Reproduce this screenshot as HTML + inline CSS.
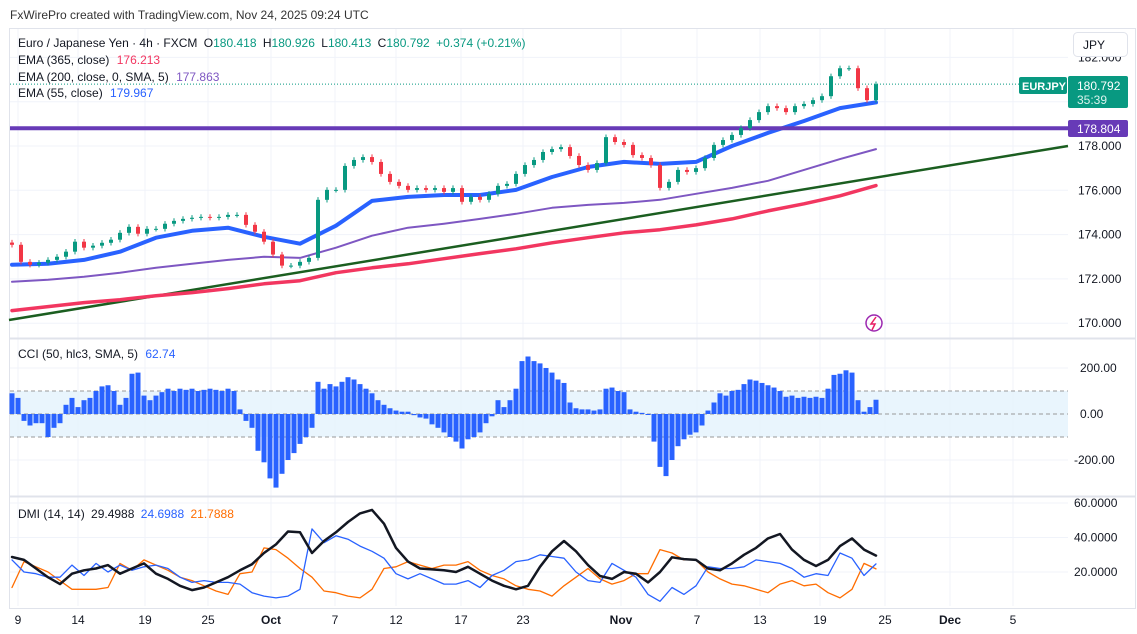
<!DOCTYPE html>
<html><head><meta charset="utf-8"><style>
html,body{margin:0;padding:0;background:#fff;}
svg{display:block;font-family:"Liberation Sans",sans-serif;}
</style></head><body>
<svg id="c" width="1137" height="634" viewBox="0 0 1137 634" xmlns="http://www.w3.org/2000/svg">
<rect x="0" y="0" width="1137" height="634" fill="#fff"/>
<text x="10" y="19" font-size="12" fill="#333">FxWirePro created with TradingView.com, Nov 24, 2025 09:24 UTC</text>
<rect x="9.5" y="28.5" width="1126" height="580" fill="none" stroke="#e0e3eb"/>
<g id="grid"></g>
<rect x="10" y="391" width="1058" height="46" fill="#e3f2fd" opacity="0.8"/>
<line x1="10" y1="391" x2="1068" y2="391" stroke="#999" stroke-dasharray="4,3"/>
<line x1="10" y1="414" x2="1068" y2="414" stroke="#999" stroke-dasharray="4,3"/>
<line x1="10" y1="437" x2="1068" y2="437" stroke="#999" stroke-dasharray="4,3"/>
<line x1="10" y1="338.5" x2="1135" y2="338.5" stroke="#e0e3eb" stroke-width="2"/>
<line x1="10" y1="496.5" x2="1135" y2="496.5" stroke="#e0e3eb" stroke-width="2"/>
<g id="marks"></g>
<g id="labels" font-size="12" fill="#131722"></g>
<text x="18" y="47" font-size="12" fill="#131722">Euro / Japanese Yen · 4h · FXCM <tspan dx="3">O</tspan><tspan fill="#089981">180.418</tspan> <tspan dx="3">H</tspan><tspan fill="#089981">180.926</tspan> <tspan dx="3">L</tspan><tspan fill="#089981">180.413</tspan> <tspan dx="3">C</tspan><tspan fill="#089981">180.792</tspan> <tspan dx="3" fill="#089981">+0.374 (+0.21%)</tspan></text>
<text x="18" y="64" font-size="12" fill="#131722">EMA (365, close) <tspan dx="4" fill="#f23660">176.213</tspan></text>
<text x="18" y="81" font-size="12" fill="#131722">EMA (200, close, 0, SMA, 5) <tspan dx="4" fill="#7e57c2">177.863</tspan></text>
<text x="18" y="97" font-size="12" fill="#131722">EMA (55, close) <tspan dx="4" fill="#2962ff">179.967</tspan></text>
<text x="18" y="358" font-size="12" fill="#131722">CCI (50, hlc3, SMA, 5) <tspan dx="4" fill="#2962ff">62.74</tspan></text>
<text x="18" y="518" font-size="12" fill="#131722">DMI (14, 14) <tspan dx="3">29.4988</tspan> <tspan dx="3" fill="#2962ff">24.6988</tspan> <tspan dx="3" fill="#ff6d00">21.7888</tspan></text>
<g id="overlay"></g>
<rect x="1073.5" y="32.5" width="54" height="24" rx="4" fill="#fff" stroke="#e0e3eb"/>
<text x="1083" y="49" font-size="12" fill="#131722">JPY</text>
<g><circle cx="874" cy="323" r="8" fill="none" stroke="#9c27b0" stroke-width="1.5"/><path d="M876 317 L871 324 L875 324 L872 330" fill="none" stroke="#e91e63" stroke-width="1.5"/></g>
</svg>
<script>
// ---------- data ----------
const closes=[173.54,172.77,172.64,172.73,172.86,173.0,173.23,173.68,173.41,173.5,173.63,173.77,174.08,174.35,174.04,174.26,174.26,174.49,174.62,174.71,174.76,174.8,174.76,174.8,174.89,174.89,174.44,174.13,173.68,173.1,172.6,172.6,172.77,172.95,175.57,176.02,176.02,177.1,177.37,177.5,177.28,176.74,176.38,176.2,176.02,176.1,176.02,176.1,175.93,176.1,175.48,175.7,175.57,175.84,176.2,176.29,176.74,177.14,177.37,177.73,177.86,177.95,177.55,177.14,176.92,177.23,178.4,178.18,178.05,177.59,177.46,177.14,176.11,176.38,176.92,176.83,177.0,177.46,178.05,178.27,178.5,178.81,179.17,179.53,179.8,179.71,179.53,179.8,179.9,180.07,180.25,181.15,181.51,181.51,180.61,180.07,180.79];
const ema55=[172.64,172.68,172.86,173.23,173.86,174.17,174.31,173.9,173.59,174.4,175.52,175.7,175.79,175.79,176.02,176.6,177.05,177.28,177.19,177.28,178.0,178.59,179.13,179.71,179.97];
const ema200=[171.87,171.96,172.1,172.28,172.5,172.68,172.86,173.0,172.95,173.41,173.95,174.31,174.49,174.71,174.94,175.21,175.34,175.43,175.57,175.84,176.11,176.43,176.92,177.41,177.86];
const ema365=[170.57,170.75,170.93,171.06,171.24,171.38,171.56,171.78,171.92,172.28,172.5,172.68,172.91,173.14,173.36,173.63,173.86,174.08,174.22,174.44,174.71,175.07,175.39,175.75,176.21];
const cci=[90,70,-30,-50,-40,-40,-100,-60,-40,40,70,30,60,70,100,120,125,100,40,70,175,180,80,60,80,95,110,100,110,105,110,100,105,110,105,100,110,100,20,-30,-60,-160,-210,-280,-320,-260,-200,-170,-130,-100,-60,140,110,130,120,140,160,150,130,110,90,60,40,25,15,10,10,-5,-15,-20,-45,-60,-80,-100,-120,-150,-110,-100,-80,-40,-10,60,30,60,110,230,250,230,220,200,180,150,135,50,25,20,20,15,20,110,115,100,95,20,10,5,0,-120,-230,-270,-200,-140,-110,-90,-80,-50,15,50,90,80,100,105,130,150,145,135,125,115,100,75,80,70,75,70,75,70,110,170,175,190,180,60,10,30,62];
const adx=[28.7,27,22,17,13,19,21,22,24,19,22,25,19,16,12,9.5,11,14,17,21,24.5,31,36,43.5,43,31,38,43,49,54,56,48,34,26,22,21.5,21,20,23,19,15,12,10,12,23,32,38,32,24,17.7,16,20,19,14,20,28.5,27.5,27,22,21,25,30,34,39.5,42,33,27,23.5,27,35,39.5,33,29.5];
const diPlus=[27,20,19,17,17,24,18,25,20,24,21,23,24,22,17,14,15,14,14,13,8,6,5,6,10,45,37,41,39,35,32,28,19,16,19,16,13,13,15,11,18,21,26,27,30,29,28,20,15,14,25,21,17,7,3,11,7,12,23,22,22,23,27,26,25,22,17,19,18,31,28,18,24.7];
const diMinus=[11,26,23,20,15,10,10,10,11,25,21,27,24,21,17,15,12,9,7,19,20,34,33,28,22,17,9,8,6,5,10,22,23,26,24,22,24,24,26,21,18,16,12,10,9,6,12,17,22,16,13,15,19,19,33,31,27,27,20,16,13,12,10,8,13,15,12,13,8,5,10,25,21.8];
const priceTicks=[170,172,174,176,178,180,182];
const cciTicks=[200,0,-200];
const dmiTicks=[20,40,60];
const dateLabels=["9","14","19","25","Oct","7","12","17","23","Nov","7","13","19","25","Dec","5"];
const dateLabelX=[18,78,145,208,271,335,396,461,523,621,697,760,820,885,950,1013];
const lastPrice=180.792, hLevel=178.804;

// ---------- scales ----------
const NS='http://www.w3.org/2000/svg';
const X0=12, X1=876;
const yP=p=>146-(p-178)*22.15;
const yC=v=>414-v*0.23;
const yD=v=>572-(v-20)*1.725;
const xIdx=(i,n)=>X0+i*(X1-X0)/(n-1);
const marks=document.getElementById('marks'), grid=document.getElementById('grid'), labels=document.getElementById('labels'), overlay=document.getElementById('overlay');
function mk(tag,attrs,parent){const e=document.createElementNS(NS,tag);for(const k in attrs)e.setAttribute(k,attrs[k]);(parent||marks).appendChild(e);return e;}

// grid
dateLabelX.forEach(x=>{const l=mk('line',{x1:x,y1:29,x2:x,y2:606,stroke:'#f0f3fa'},grid);

});
priceTicks.forEach(p=>{const l=mk('line',{x1:10,y1:yP(p),x2:1068,y2:yP(p),stroke:'#f0f3fa'},grid);

});
cciTicks.forEach(v=>{const l=mk('line',{x1:10,y1:yC(v),x2:1068,y2:yC(v),stroke:'#f0f3fa'},grid);

});
dmiTicks.forEach(v=>{const l=mk('line',{x1:10,y1:yD(v),x2:1068,y2:yD(v),stroke:'#f0f3fa'},grid);

});

// trendline
const tl=mk('line',{x1:9,y1:320,x2:1068,y2:146,stroke:'#1b5e20','stroke-width':2.5});


function poly(arr,yf,color,w,name){const pts=arr.map((v,i)=>xIdx(i,arr.length).toFixed(1)+','+yf(v).toFixed(1)).join(' ');
const e=mk('polyline',{points:pts,fill:'none',stroke:color,'stroke-width':w,'stroke-linejoin':'round','stroke-linecap':'round'});

return e;}
poly(ema365,yP,'#f23660',3.5,'ema365-line');
poly(ema200,yP,'#7e57c2',2,'ema200-line');
poly(ema55,yP,'#2962ff',4,'ema55-line');

// horizontal level
const hl=mk('line',{x1:10,y1:yP(hLevel),x2:1068,y2:yP(hLevel),stroke:'#673ab7','stroke-width':4});


const dl=mk('line',{x1:10,y1:yP(lastPrice),x2:1020,y2:yP(lastPrice),stroke:'#089981','stroke-dasharray':'1,2'});



// candles
closes.forEach((c,i)=>{const o=i?closes[i-1]:c+0.1;const x=xIdx(i,closes.length);const col=c>=o?'#089981':'#f23645';
const hi=Math.max(o,c)+0.12, lo=Math.min(o,c)-0.12;
const w=mk('line',{x1:x,y1:yP(hi),x2:x,y2:yP(lo),stroke:col,'stroke-width':1});


const top=yP(Math.max(o,c)),h=Math.max(1,yP(Math.min(o,c))-top);
const b=mk('rect',{x:x-2,y:top,width:4,height:h,fill:col});

});

// CCI bars
cci.forEach((v,i)=>{const x=xIdx(i,cci.length);const y0=yC(0),y1=yC(v);
const r=mk('rect',{x:x-2.5,y:Math.min(y0,y1),width:5,height:Math.max(1,Math.abs(y1-y0)),fill:'#2962ff'});

});

// DMI
poly(diMinus,yD,'#ff6d00',1.3,'dmi-minus-line');
poly(diPlus,yD,'#2962ff',1.3,'dmi-plus-line');
poly(adx,yD,'#131722',2.5,'adx-line');

// axis labels
function txt(s,x,y,attrs,name,parent){const t=mk('text',Object.assign({x:x,y:y},attrs||{}),parent||labels);t.textContent=s;

return t;}
priceTicks.forEach(p=>{if(Math.abs(yP(p)-yP(lastPrice))>18)txt(p.toFixed(3),1078,yP(p)+4,{},'price-tick');});
cciTicks.forEach(v=>txt(v.toFixed(2),v<0?1074:1080,yC(v)+4,{},'cci-tick'));
dmiTicks.forEach(v=>txt(v.toFixed(4),1074,yD(v)+4,{},'dmi-tick'));
dateLabels.forEach((s,i)=>txt(s,dateLabelX[i],624,{'text-anchor':'middle','font-weight':/[a-z]/i.test(s)?'bold':'normal'},'date-tick'));

// price tags
const g1=mk('rect',{x:1019,y:77,width:48,height:17,rx:2,fill:'#089981'},overlay);


txt('EURJPY',1022,90,{fill:'#fff','font-weight':'bold','font-size':11},'symbol-tag-text',overlay);
const g2=mk('rect',{x:1068,y:76,width:60,height:32,rx:2,fill:'#089981'},overlay);


txt('180.792',1077,90,{fill:'#fff','font-size':12},'last-price-text',overlay);
txt('35:39',1077,104,{fill:'#d9f2ec','font-size':12},'countdown-text',overlay);
const g3=mk('rect',{x:1068,y:120,width:60,height:17,rx:2,fill:'#673ab7'},overlay);


txt('178.804',1077,133,{fill:'#fff','font-size':12},'level-price-text',overlay);
</script>
</body></html>
